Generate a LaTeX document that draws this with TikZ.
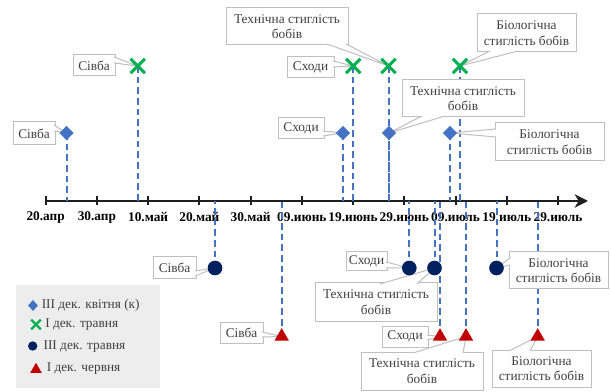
\documentclass[tikz,border=0pt]{standalone}
\usepackage{fontspec}
\setmainfont{Liberation Serif}
\usetikzlibrary{shapes.geometric,shapes.misc,arrows.meta,calc}
\definecolor{cblue}{HTML}{4472C4}
\definecolor{cgreen}{HTML}{00B050}
\definecolor{cnavy}{HTML}{002060}
\definecolor{cred}{HTML}{C00000}
\definecolor{cedge}{HTML}{BFBFBF}
\definecolor{ctext}{HTML}{404040}
\definecolor{clegend}{HTML}{EDEDED}
\definecolor{caxis}{HTML}{1F1F1F}
\tikzset{
  px/.style={x=0.75pt,y=-0.75pt},
  axisline/.style={caxis, line width=1.6pt, -{Stealth[length=10pt,width=10pt,inset=3pt]}},
  tickline/.style={caxis, line width=1.5pt},
  ticklbl/.style={font=\bfseries\fontsize{10}{12}\selectfont, text=black, inner sep=0pt},
  drop/.style={cblue, line width=1.5pt, dash pattern=on 5pt off 3pt},
  dia/.style={diamond, fill=cblue, inner sep=0pt, minimum width=11pt, minimum height=11pt},
  crs/.style={cross out, draw=cgreen, line width=2.3pt, minimum size=8.5pt, inner sep=0pt},
  dot/.style={circle, fill=cnavy, inner sep=0pt, minimum size=11pt},
  tri/.style={regular polygon, regular polygon sides=3, fill=cred, inner sep=0pt, minimum size=12.5pt},
  lbl/.style={draw=cedge, fill=white, line width=0.75pt, text=ctext, align=center,
              font=\fontsize{10}{11.5}\selectfont, inner sep=0pt, outer sep=0pt},
  wedgeline/.style={cedge, line width=0.75pt},
  legtext/.style={anchor=west, inner sep=0pt, text=ctext, font=\fontsize{10}{12}\selectfont},
}
\newcommand\mybox[6]{\node[lbl, minimum width={(#4-#2)*0.75pt}, minimum height={(#5-#3)*0.75pt}] (#1) at ({(#2+#4)/2},{(#3+#5)/2}) {#6};}
\newcommand\mywedge[4]{%
  \fill[white] ($(#1.north west)+(#2)$) -- (#4) -- ($(#1.north west)+(#3)$) -- cycle;
  \draw[wedgeline] ($(#1.north west)+(#2)$) -- (#4) -- ($(#1.north west)+(#3)$);}
\begin{document}
\begin{tikzpicture}[px]
\useasboundingbox (0,0) rectangle (611,392);
% legend background
\fill[clegend] (16,285) rectangle (160,388);
% axis
\coordinate (ax0) at (45.7,201);
\coordinate (axE) at (588,201);
\foreach \l [count=\i from 0] in {20.апр,30.апр,10.май,20.май,30.май,09.июнь,19.июнь,29.июнь,09.июль,19.июль,29.июль}
  \node[ticklbl] (tl\i) at ({45.7+51.23*\i},217) {\l};
\draw[axisline] (ax0) -- (axE);
\foreach \i in {0,...,10}
  \draw[tickline] ({45.7+51.23*\i},196.5) -- ({45.7+51.23*\i},205.5);
% marker positions
\coordinate (d1) at (66.5,133);
\coordinate (d2) at (343,133);
\coordinate (d3) at (389,133);
\coordinate (d4) at (450,133);
\coordinate (x1) at (137.7,66);
\coordinate (x2) at (353.3,66);
\coordinate (x3) at (388.5,66);
\coordinate (x4) at (460,66);
\coordinate (c1) at (215,268);
\coordinate (c2) at (409.3,268);
\coordinate (c3) at (434.5,268);
\coordinate (c4) at (496.5,268);
\coordinate (r1) at (281.7,336.5);
\coordinate (r2) at (440,336.5);
\coordinate (r3) at (466,336.5);
\coordinate (r4) at (537.7,336.5);
% drop lines
\foreach \m in {d1,d2,d3,d4,x1,x2,x3,x4,c1,c2,c3,c4,r1,r2,r3,r4}
  \draw[drop] (\m) -- (\m |- ax0);
% callouts: blue diamonds
\mybox{bd1}{13}{122}{55}{145}{Сівба}
\mywedge{bd1}{41,3}{41,9}{d1}
\mybox{bd2}{278}{118}{324}{139}{Сходи}
\mywedge{bd2}{45,13}{45,18}{d2}
\mybox{bd3}{402}{80}{524}{117}{Технічна стиглість\\бобів}
\mywedge{bd3}{20,36}{43,36}{d3}
\mybox{bd4}{495}{123}{604}{161}{Біологічна\\стиглість бобів}
\mywedge{bd4}{1,6}{1,14}{d4}
% green crosses
\mybox{bx1}{73}{55}{115}{76}{Сівба}
\mywedge{bx1}{41,2}{41,8}{x1}
\mybox{bx2}{287}{57}{334}{78}{Сходи}
\mywedge{bx2}{46,4}{46,10}{x2}
\mybox{bx3}{226}{8}{348}{45}{Технічна стиглість\\бобів}
\mywedge{bx3}{101,36}{120,36}{x3}
\mybox{bx4}{477}{14}{576}{52}{Біологічна\\стиглість бобів}
\mywedge{bx4}{13,37}{41,37}{x4}
% navy circles
\mybox{bc1}{153}{257}{196}{279}{Сівба}
\mywedge{bc1}{42,14}{42,19}{c1}
\mybox{bc2}{346}{252}{387}{271}{Сходи}
\mywedge{bc2}{40,10}{40,16}{c2}
\mybox{bc3}{315}{283}{437}{321}{Технічна стиглість\\бобів}
\mywedge{bc3}{65,1}{102,1}{c3}
\mybox{bc4}{509}{252}{608}{289}{Біологічна\\стиглість бобів}
\mywedge{bc4}{1,6}{1,13}{c4}
% red triangles
\mybox{br1}{220}{322}{263}{343}{Сівба}
\mywedge{br1}{42,10}{42,15}{r1}
\mybox{br2}{382}{326}{428}{347}{Сходи}
\mywedge{br2}{45,9}{45,14}{r2}
\mybox{br3}{361}{352}{483}{390}{Технічна стиглість\\бобів}
\mywedge{br3}{52,1}{102,1}{r3}
\mybox{br4}{492}{350}{591}{387}{Біологічна\\стиглість бобів}
\mywedge{br4}{17,1}{38,1}{r4}
% markers
\foreach \m in {d1,d2,d3,d4} \node[dia] (m-\m) at (\m) {};
\foreach \m in {x1,x2,x3,x4} \node[crs] (m-\m) at (\m) {};
\foreach \m in {c1,c2,c3,c4} \node[dot] (m-\m) at (\m) {};
\foreach \m in {r1,r2,r3,r4} \node[tri] (m-\m) at (\m) {};
% legend
\node[dia, minimum width=7.5pt, minimum height=8.5pt] (lg1) at (33,305.5) {};
\node[legtext] (lt1) at (41.5,305) {III дек. квітня (к)};
\node[crs, minimum size=5.5pt, line width=1.8pt] (lg2) at (36,324.5) {};
\node[legtext] (lt2) at (45,324.5) {I дек. травня};
\node[dot, minimum size=7pt] (lg3) at (32.7,346) {};
\node[legtext] (lt3) at (43.3,346.5) {III дек. травня};
\node[tri, minimum size=10pt] (lg4) at (36,369.5) {};
\node[legtext] (lt4) at (46.5,368.5) {I дек. червня};
\end{tikzpicture}
\end{document}
